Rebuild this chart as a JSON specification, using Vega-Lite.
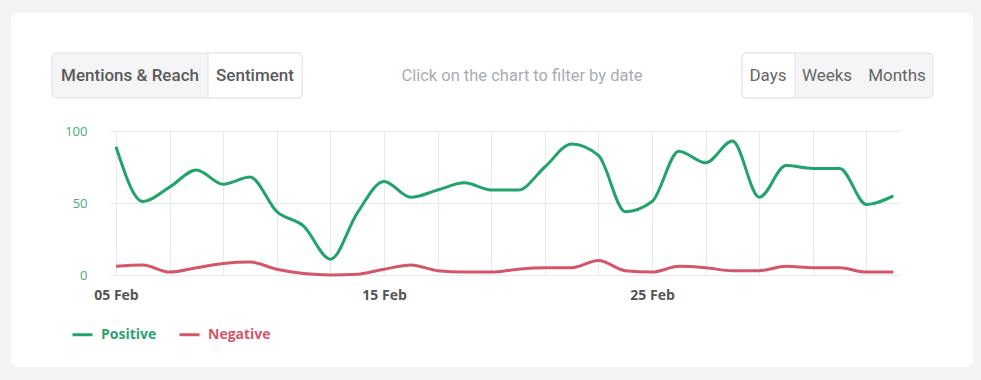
{
  "$schema": "https://vega.github.io/schema/vega-lite/v6.json",
  "width": 784,
  "height": 144,
  "autosize": {"type": "none"},
  "padding": {"left": 116, "top": 131, "right": 81, "bottom": 105},
  "background": "white",
  "config": {"view": {"stroke": null}},
  "datasets": {
    "sentiment": [
      {"date": "2021-02-05", "series": "Positive", "value": 89},
      {"date": "2021-02-06", "series": "Positive", "value": 51},
      {"date": "2021-02-07", "series": "Positive", "value": 61},
      {"date": "2021-02-08", "series": "Positive", "value": 73},
      {"date": "2021-02-09", "series": "Positive", "value": 63},
      {"date": "2021-02-10", "series": "Positive", "value": 68},
      {"date": "2021-02-11", "series": "Positive", "value": 44},
      {"date": "2021-02-12", "series": "Positive", "value": 34},
      {"date": "2021-02-13", "series": "Positive", "value": 11},
      {"date": "2021-02-14", "series": "Positive", "value": 43},
      {"date": "2021-02-15", "series": "Positive", "value": 65},
      {"date": "2021-02-16", "series": "Positive", "value": 54},
      {"date": "2021-02-17", "series": "Positive", "value": 59},
      {"date": "2021-02-18", "series": "Positive", "value": 64},
      {"date": "2021-02-19", "series": "Positive", "value": 59},
      {"date": "2021-02-20", "series": "Positive", "value": 59},
      {"date": "2021-02-21", "series": "Positive", "value": 75},
      {"date": "2021-02-22", "series": "Positive", "value": 91},
      {"date": "2021-02-23", "series": "Positive", "value": 83},
      {"date": "2021-02-24", "series": "Positive", "value": 44},
      {"date": "2021-02-25", "series": "Positive", "value": 51},
      {"date": "2021-02-26", "series": "Positive", "value": 86},
      {"date": "2021-02-27", "series": "Positive", "value": 78},
      {"date": "2021-02-28", "series": "Positive", "value": 93},
      {"date": "2021-03-01", "series": "Positive", "value": 54},
      {"date": "2021-03-02", "series": "Positive", "value": 76},
      {"date": "2021-03-03", "series": "Positive", "value": 74},
      {"date": "2021-03-04", "series": "Positive", "value": 74},
      {"date": "2021-03-05", "series": "Positive", "value": 49},
      {"date": "2021-03-06", "series": "Positive", "value": 55},
      {"date": "2021-02-05", "series": "Negative", "value": 6},
      {"date": "2021-02-06", "series": "Negative", "value": 7},
      {"date": "2021-02-07", "series": "Negative", "value": 2},
      {"date": "2021-02-08", "series": "Negative", "value": 5},
      {"date": "2021-02-09", "series": "Negative", "value": 8},
      {"date": "2021-02-10", "series": "Negative", "value": 9},
      {"date": "2021-02-11", "series": "Negative", "value": 4},
      {"date": "2021-02-12", "series": "Negative", "value": 1},
      {"date": "2021-02-13", "series": "Negative", "value": 0},
      {"date": "2021-02-14", "series": "Negative", "value": 0.5},
      {"date": "2021-02-15", "series": "Negative", "value": 4},
      {"date": "2021-02-16", "series": "Negative", "value": 7},
      {"date": "2021-02-17", "series": "Negative", "value": 3},
      {"date": "2021-02-18", "series": "Negative", "value": 2},
      {"date": "2021-02-19", "series": "Negative", "value": 2},
      {"date": "2021-02-20", "series": "Negative", "value": 4},
      {"date": "2021-02-21", "series": "Negative", "value": 5},
      {"date": "2021-02-22", "series": "Negative", "value": 5},
      {"date": "2021-02-23", "series": "Negative", "value": 10},
      {"date": "2021-02-24", "series": "Negative", "value": 3},
      {"date": "2021-02-25", "series": "Negative", "value": 2},
      {"date": "2021-02-26", "series": "Negative", "value": 6},
      {"date": "2021-02-27", "series": "Negative", "value": 5},
      {"date": "2021-02-28", "series": "Negative", "value": 3},
      {"date": "2021-03-01", "series": "Negative", "value": 3},
      {"date": "2021-03-02", "series": "Negative", "value": 6},
      {"date": "2021-03-03", "series": "Negative", "value": 5},
      {"date": "2021-03-04", "series": "Negative", "value": 5},
      {"date": "2021-03-05", "series": "Negative", "value": 2},
      {"date": "2021-03-06", "series": "Negative", "value": 2}
    ]
  },
  "layer": [
    {
      "data": {"name": "sentiment"},
      "mark": {"type": "line", "interpolate": "monotone", "strokeWidth": 3},
      "encoding": {
        "x": {
          "field": "date",
          "type": "temporal",
          "scale": {
            "type": "utc",
            "domain": [
              {"year": 2021, "month": 2, "date": 5, "utc": true},
              {"year": 2021, "month": 3, "date": 6, "hours": 6, "utc": true}
            ]
          },
          "axis": {
            "title": null,
            "tickCount": {"interval": "day", "step": 2},
            "grid": true,
            "gridColor": "#e9eaec",
            "gridWidth": 1,
            "domain": false,
            "ticks": false,
            "labelOverlap": false,
            "labelFlush": false,
            "labelBound": false,
            "labelExpr": "(utcFormat(datum.value, '%b') == 'Feb' && indexof(['05','15','25'], utcFormat(datum.value, '%d')) >= 0) ? utcFormat(datum.value, '%d %b') : ''",
            "labelFont": "Open Sans",
            "labelFontSize": 14,
            "labelFontWeight": "bold",
            "labelColor": "#555555",
            "labelPadding": 13
          }
        },
        "y": {
          "field": "value",
          "type": "quantitative",
          "scale": {"domain": [0, 100], "nice": false},
          "axis": {
            "title": null,
            "values": [0, 50, 100],
            "grid": true,
            "gridColor": "#e9eaec",
            "domain": false,
            "ticks": true,
            "tickSize": 7,
            "tickColor": "#e9eaec",
            "labelFont": "Open Sans",
            "labelFontSize": 13,
            "labelColor": "#45ad7c",
            "labelPadding": 22
          }
        },
        "color": {
          "field": "series",
          "type": "nominal",
          "scale": {"domain": ["Positive", "Negative"], "range": ["#22a36a", "#d4566a"]},
          "legend": {
            "title": null,
            "orient": "none",
            "legendX": -45,
            "legendY": 192,
            "direction": "horizontal",
            "symbolType": "stroke",
            "symbolSize": 400,
            "symbolStrokeWidth": 3,
            "labelFont": "Open Sans",
            "labelFontSize": 14,
            "labelFontWeight": "bold",
            "labelOffset": 7,
            "columnPadding": 16,
            "encoding": {
              "labels": {
                "fill": {"condition": {"test": "datum.label == 'Positive'", "value": "#2aa46d"}, "value": "#d4566a"}
              }
            }
          }
        }
      }
    },
    {
      "data": {"values": [{}]},
      "mark": {"type": "rect", "x": -125, "x2": 877, "y": -138, "y2": 256, "fill": "transparent", "stroke": "#f3f4f6", "strokeWidth": 40, "cornerRadius": 28}
    },
    {
      "data": {"values": [{}]},
      "mark": {"type": "rule", "x": -116, "x2": 865, "y": 247.5, "y2": 247.5, "stroke": "#dfe1e5", "strokeWidth": 1},
      "encoding": {}
    },
    {
      "data": {"values": [{}]},
      "mark": {"type": "rect", "x": -64, "x2": 186, "y": -78, "y2": -33, "fill": "#f5f5f7", "stroke": "#e0e1e4", "strokeWidth": 1, "cornerRadius": 4}
    },
    {
      "data": {"values": [{}]},
      "mark": {"type": "rect", "x": 92, "x2": 186, "y": -78, "y2": -33, "fill": "white", "stroke": "#e0e1e4", "strokeWidth": 1, "cornerRadiusTopRight": 4, "cornerRadiusBottomRight": 4}
    },
    {
      "data": {"values": [{}]},
      "mark": {"type": "rect", "x": 626, "x2": 817, "y": -78, "y2": -33, "fill": "#f5f5f7", "stroke": "#e0e1e4", "strokeWidth": 1, "cornerRadius": 4}
    },
    {
      "data": {"values": [{}]},
      "mark": {"type": "rect", "x": 626, "x2": 679, "y": -78, "y2": -33, "fill": "white", "stroke": "#e0e1e4", "strokeWidth": 1, "cornerRadiusTopLeft": 4, "cornerRadiusBottomLeft": 4}
    },
    {
      "data": {"values": [{"label": "Mentions & Reach"}]},
      "mark": {"type": "text", "x": 14, "y": -55, "align": "center", "baseline": "middle", "font": "Roboto", "fontSize": 17, "fontWeight": 500, "fill": "#5a5a5a"},
      "encoding": {"text": {"field": "label"}}
    },
    {
      "data": {"values": [{"label": "Sentiment"}]},
      "mark": {"type": "text", "x": 139, "y": -55, "align": "center", "baseline": "middle", "font": "Roboto", "fontSize": 17, "fontWeight": 500, "fill": "#5a5a5a"},
      "encoding": {"text": {"field": "label"}}
    },
    {
      "data": {"values": [{"label": "Click on the chart to filter by date"}]},
      "mark": {"type": "text", "x": 406, "y": -55, "align": "center", "baseline": "middle", "font": "Roboto", "fontSize": 16.5, "fill": "#a9acb3"},
      "encoding": {"text": {"field": "label"}}
    },
    {
      "data": {"values": [{"label": "Days"}]},
      "mark": {"type": "text", "x": 652, "y": -55, "align": "center", "baseline": "middle", "font": "Roboto", "fontSize": 17, "fill": "#666666"},
      "encoding": {"text": {"field": "label"}}
    },
    {
      "data": {"values": [{"label": "Weeks"}]},
      "mark": {"type": "text", "x": 711, "y": -55, "align": "center", "baseline": "middle", "font": "Roboto", "fontSize": 17, "fill": "#666666"},
      "encoding": {"text": {"field": "label"}}
    },
    {
      "data": {"values": [{"label": "Months"}]},
      "mark": {"type": "text", "x": 781, "y": -55, "align": "center", "baseline": "middle", "font": "Roboto", "fontSize": 17, "fill": "#666666"},
      "encoding": {"text": {"field": "label"}}
    }
  ]
}
